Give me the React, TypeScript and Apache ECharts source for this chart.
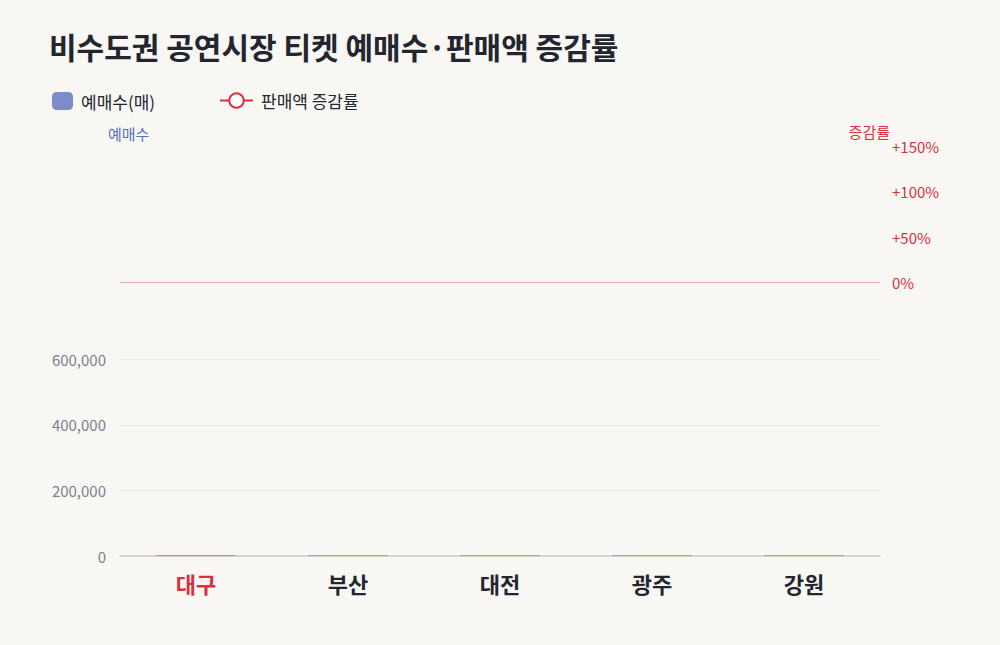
import { useEffect, useRef } from "react";
import * as echarts from "echarts";

const regions = ["대구", "부산", "대전", "광주", "강원"];
// bars sit flat on the baseline in the reference
const tickets = [0, 0, 0, 0, 0];
// the growth line draws no visible point in the reference
const salesGrowth: (number | null)[] = [null, null, null, null, null];
const highlight = "대구";

const FONT = "'Noto Sans CJK KR', 'Noto Sans', sans-serif";
const BLUE = "#7b8cc8";
const RED = "#d8303f";
const INK = "#23262f";
const GRAY = "#7c7f8c";
const GRID = "#ebe9e4";
const NONE = "transparent";

export default function App() {
  const elRef = useRef<HTMLDivElement>(null);

  useEffect(() => {
    document.body.style.margin = "0";
    if (!elRef.current) return;
    const chart = echarts.init(elRef.current, null, { renderer: "svg" });
    chart.setOption({
      animation: false,
      backgroundColor: "#f8f7f3",
      textStyle: { fontFamily: FONT },
      title: {
        text: "비수도권 공연시장 티켓 예매수·판매액 증감률",
        left: 44,
        top: 26,
        textStyle: { fontSize: 30, fontWeight: "bold", color: INK, fontFamily: FONT },
      },
      legend: [
        {
          left: 47,
          top: 87,
          data: ["예매수(매)"],
          icon: "roundRect",
          itemWidth: 21,
          itemHeight: 18,
          itemStyle: { color: BLUE, opacity: 1 },
          textStyle: { fontSize: 17, color: INK, fontFamily: FONT, padding: [0, 0, 0, 3] },
        },
        {
          left: 214,
          top: 87,
          data: ["판매액 증감률"],
          itemWidth: 33,
          itemHeight: 18,
          textStyle: { fontSize: 17, color: INK, fontFamily: FONT, padding: [0, 0, 0, 3] },
        },
      ],
      grid: { left: 120, right: 120, top: 146, bottom: 89 },
      xAxis: {
        type: "category",
        data: regions,
        axisTick: { show: false },
        axisLine: { lineStyle: { color: "#c9c9c9", width: 1.5 } },
        axisLabel: {
          margin: 16,
          fontSize: 22,
          fontWeight: "bold",
          fontFamily: FONT,
          color: (v: string) => (v === highlight ? RED : INK),
        },
      },
      yAxis: [
        {
          type: "value",
          min: 0,
          max: 1250000,
          interval: 200000,
          name: "예매수",
          nameLocation: "end",
          nameGap: 5,
          nameTextStyle: { color: "#5a6fb8", fontSize: 15, align: "left", padding: [0, 0, 0, -12], fontFamily: FONT },
          axisLine: { show: false },
          axisTick: { show: false },
          axisLabel: {
            fontSize: 15,
            color: GRAY,
            margin: 14,
            fontFamily: FONT,
            formatter: (v: number) => (v > 600000 ? "" : v.toLocaleString("en-US")),
          },
          splitLine: {
            lineStyle: { color: [GRID, GRID, GRID, GRID, NONE, NONE, NONE, NONE, NONE] },
          },
        },
        {
          type: "value",
          min: -300,
          max: 150,
          interval: 50,
          name: "증감률",
          nameLocation: "end",
          nameGap: 5,
          nameTextStyle: { color: RED, fontSize: 15, align: "right", padding: [0, -10, 0, 0], fontFamily: FONT },
          axisLine: { show: false },
          axisTick: { show: false },
          axisLabel: {
            fontSize: 15,
            color: RED,
            margin: 12,
            fontFamily: FONT,
            formatter: (v: number) => (v < 0 ? "" : v === 0 ? "0%" : "+" + v + "%"),
          },
          splitLine: {
            show: true,
            lineStyle: { color: [NONE, NONE, NONE, NONE, NONE, NONE, "#f2a9b0", NONE, NONE, NONE, NONE] },
          },
        },
      ],
      series: [
        {
          name: "예매수(매)",
          type: "bar",
          yAxisIndex: 0,
          barWidth: "52%",
          barMinHeight: 1,
          itemStyle: { color: BLUE, opacity: 0.6 },
          data: tickets.map((v, i) => ({
            value: v,
            itemStyle: regions[i] === highlight ? { color: RED, opacity: 0.5 } : undefined,
          })),
        },
        {
          name: "판매액 증감률",
          type: "line",
          yAxisIndex: 1,
          symbol: "circle",
          symbolSize: 10,
          lineStyle: { color: RED, width: 3 },
          itemStyle: { color: "#ffffff", borderColor: RED, borderWidth: 2.5 },
          data: salesGrowth,
        },
      ],
    });
    return () => chart.dispose();
  }, []);

  return <div ref={elRef} style={{ width: 1000, height: 645 }} />;
}
